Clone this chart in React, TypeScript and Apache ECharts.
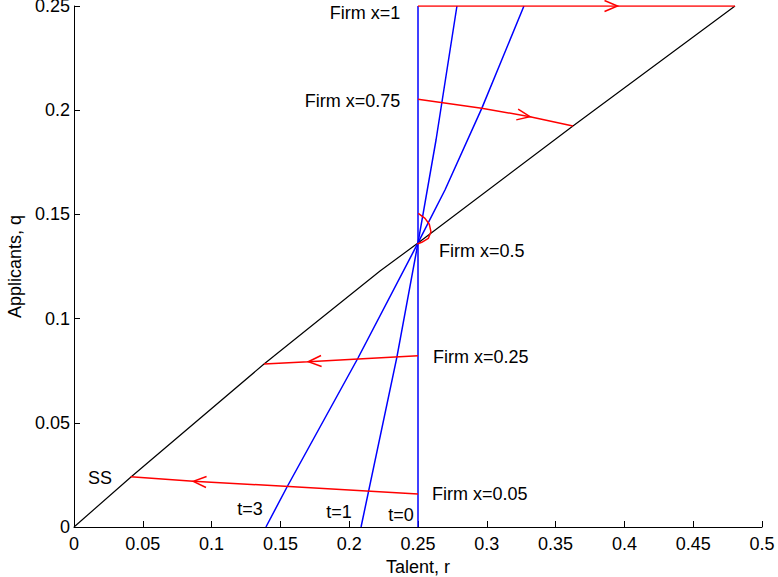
import React, { useEffect, useRef } from "react";
import * as echarts from "echarts";

// Steady-state curve SS: [talent r, applicants q]
const ssCurve: [number, number][] = [
  [0, 0], [0.0414, 0.024], [0.1381, 0.0782], [0.2224, 0.1228], [0.25, 0.1363],
  [0.3626, 0.1924], [0.4804, 0.25],
];
// Blue time curves
const t0Curve: [number, number][] = [[0.25, 0], [0.25, 0.25]];
const t1Curve: [number, number][] = [
  [0.2086, 0], [0.2347, 0.0816], [0.25, 0.1363], [0.2631, 0.1857], [0.2783, 0.25],
];
const t3Curve: [number, number][] = [
  [0.1395, 0], [0.1548, 0.0192], [0.2064, 0.0811], [0.25, 0.1363], [0.2696, 0.1617],
  [0.2965, 0.2011], [0.327, 0.25],
];
// Red firm trajectories
const firm1: [number, number][] = [[0.25, 0.25], [0.4804, 0.25]];
const firm075: [number, number][] = [
  [0.25, 0.2052], [0.2963, 0.2009], [0.3314, 0.1969], [0.3626, 0.1924],
];
const firm05: [number, number][] = [
  [0.2502, 0.1505], [0.2551, 0.1481], [0.2582, 0.1453], [0.2594, 0.1417],
  [0.2575, 0.1385], [0.2527, 0.1366], [0.2495, 0.1358],
];
const firm025: [number, number][] = [
  [0.25, 0.0822], [0.2066, 0.0806], [0.1703, 0.0793], [0.1381, 0.0782],
];
const firm005: [number, number][] = [
  [0.25, 0.0158], [0.15, 0.0197], [0.0867, 0.0219], [0.0412, 0.0241],
];
// Arrowheads: [tip r, tip q, from r, from q]
const arrows: [number, number, number, number][] = [
  [0.395, 0.25, 0.3, 0.25],
  [0.3314, 0.1969, 0.2963, 0.2009],
  [0.1703, 0.0793, 0.2066, 0.0806],
  [0.0867, 0.0219, 0.15, 0.0197],
];
// Text annotations: [r, q, text]
const labelsRight: [number, number, string][] = [
  [0.2372, 0.2468, "Firm x=1"],
  [0.2372, 0.2044, "Firm x=0.75"],
];
const labelsLeft: [number, number, string][] = [
  [0.2653, 0.1324, "Firm x=0.5"],
  [0.2609, 0.0816, "Firm x=0.25"],
  [0.2602, 0.0158, "Firm x=0.05"],
];
const labelsCenter: [number, number, string][] = [
  [0.0189, 0.0235, "SS"],
  [0.1279, 0.0086, "t=3"],
  [0.1926, 0.0072, "t=1"],
  [0.2376, 0.0058, "t=0"],
];
const xTicks = { min: 0, max: 0.5, interval: 0.05 };
const yTicks = { min: 0, max: 0.25, interval: 0.05 };

const FONT = "Liberation Sans";
const FS = 18;

function lineSeries(data: [number, number][], color: string, width: number) {
  return {
    type: "line",
    data,
    showSymbol: false,
    symbol: "none",
    lineStyle: { color, width },
    silent: true,
    z: color === "#000000" ? 2 : 3,
  };
}

function labelSeries(data: [number, number, string][], align: string) {
  return {
    type: "scatter",
    data: data.map((d) => ({ value: [d[0], d[1]], name: d[2] })),
    symbolSize: 0,
    silent: true,
    itemStyle: { color: "#000", opacity: 1 },
    label: {
      show: true,
      position: "inside",
      align,
      verticalAlign: "middle",
      formatter: (p: any) => p.name,
      color: "#000",
      opacity: 1,
      textBorderWidth: 0,
      fontFamily: FONT,
      fontSize: FS,
    },
  };
}

export default function App() {
  const ref = useRef<HTMLDivElement>(null);
  useEffect(() => {
    const chart = echarts.init(ref.current!, null, { renderer: "svg" });
    const fmt = (v: number) => String(parseFloat(v.toFixed(2)));
    chart.setOption({
      animation: false,
      backgroundColor: "#fff",
      grid: { left: 74, right: 16, top: 6, bottom: 50, containLabel: false, outerBoundsMode: "none" },
      xAxis: {
        type: "value",
        ...xTicks,
        name: "Talent, r",
        nameLocation: "middle",
        nameGap: 26,
        nameTextStyle: { color: "#000", fontFamily: FONT, fontSize: FS },
        axisLine: { show: true, lineStyle: { color: "#000", width: 1 } },
        axisTick: { show: true, inside: true, length: 6, lineStyle: { color: "#000" } },
        axisLabel: { color: "#000", fontFamily: FONT, fontSize: FS, margin: 8, formatter: fmt },
        splitLine: { show: false },
      },
      yAxis: {
        type: "value",
        ...yTicks,
        name: "Applicants, q",
        nameLocation: "middle",
        nameGap: 45,
        nameTextStyle: { color: "#000", fontFamily: FONT, fontSize: FS },
        axisLine: { show: true, lineStyle: { color: "#000", width: 1 } },
        axisTick: { show: true, inside: true, length: 6, lineStyle: { color: "#000" } },
        axisLabel: { color: "#000", fontFamily: FONT, fontSize: FS, margin: 4, formatter: fmt },
        splitLine: { show: false },
      },
      series: [
        lineSeries(ssCurve, "#000000", 1.2),
        lineSeries(t0Curve, "#0000ff", 1.5),
        lineSeries(t1Curve, "#0000ff", 1.5),
        lineSeries(t3Curve, "#0000ff", 1.5),
        lineSeries(firm1, "#ff0000", 1.5),
        lineSeries(firm075, "#ff0000", 1.5),
        lineSeries(firm05, "#ff0000", 1.5),
        lineSeries(firm025, "#ff0000", 1.5),
        lineSeries(firm005, "#ff0000", 1.5),
        {
          type: "custom",
          data: arrows,
          silent: true,
          z: 4,
          renderItem: (params: any, api: any) => {
            const tip = api.coord([api.value(0), api.value(1)]);
            const from = api.coord([api.value(2), api.value(3)]);
            let dx = tip[0] - from[0];
            let dy = tip[1] - from[1];
            const len = Math.hypot(dx, dy) || 1;
            dx /= len;
            dy /= len;
            const L = 13, W = 5.5;
            const bx = tip[0] - dx * L, by = tip[1] - dy * L;
            return {
              type: "polyline",
              shape: {
                points: [
                  [bx - dy * W, by + dx * W],
                  tip,
                  [bx + dy * W, by - dx * W],
                ],
              },
              style: { stroke: "#ff0000", lineWidth: 1.5, fill: "none" },
            };
          },
        },
        labelSeries(labelsRight, "right"),
        labelSeries(labelsLeft, "left"),
        labelSeries(labelsCenter, "center"),
      ],
    });
    return () => chart.dispose();
  }, []);
  return (
    <div
      ref={ref}
      style={{ position: "absolute", left: 0, top: 0, width: 778, height: 577 }}
    />
  );
}
